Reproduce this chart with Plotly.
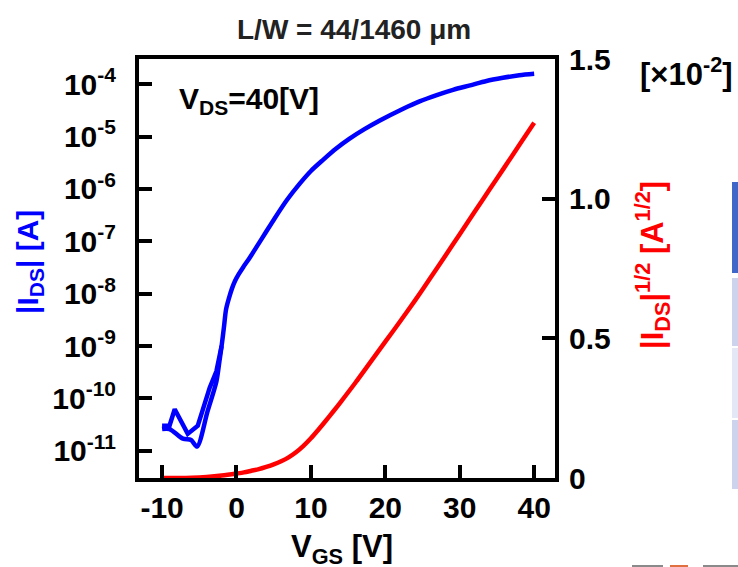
import plotly.graph_objects as go

# ---------------- data ----------------
# |I_DS| forward sweep (A)
vgs_fwd = [-10, -9.0, -7.2, -6.1, -5.3, -3.9, -2.7, -2.3, -2.0, -1.7, -1.4, -1.0, -0.6, -0.2,
           0.3, 0.9, 1.8, 2.7, 3.9, 5.1, 6.8, 8.5, 10.0, 11.6, 13.4, 15.2, 17.2, 19.2, 22.4,
           24.6, 26.9, 29.1, 31.4, 33.6, 35.8, 38.0, 40.0]
ids_fwd = [2.6e-11, 2.6e-11, 1.7e-11, 1.6e-11, 1.2e-11, 5.6e-11, 2.1e-10, 5.0e-10, 1.0e-9,
           2.2e-9, 5.0e-9, 8.3e-9, 1.26e-8, 1.74e-8, 2.35e-8, 3.2e-8, 4.9e-8, 7.8e-8, 1.45e-7,
           2.7e-7, 6.2e-7, 1.26e-6, 2.2e-6, 3.55e-6, 5.9e-6, 9.1e-6, 1.38e-5, 2.0e-5, 3.4e-5,
           4.7e-5, 6.2e-5, 7.8e-5, 9.5e-5, 1.15e-4, 1.32e-4, 1.48e-4, 1.58e-4]
# |I_DS| reverse sweep, low-current part (A)
vgs_rev = [-2.0, -2.7, -3.6, -5.2, -6.55, -8.3, -9.0, -10.0]
ids_rev = [1.0e-9, 3.3e-10, 1.6e-10, 3.0e-11, 2.1e-11, 6.2e-11, 3.0e-11, 3.0e-11]

# |I_DS|^(1/2)  (x10^-2 A^1/2)
vgs_sqrt = [-10, -8, -6, -4, -2, 0, 1, 2, 3, 4, 5, 6, 7, 8, 9, 10, 11, 12, 13, 14, 16, 18,
            20, 22, 24, 26, 28, 30, 32, 34, 36, 38, 40]
sqrt_ids = [0.0, 0.0, 0.001, 0.004, 0.009, 0.016, 0.020, 0.026, 0.032, 0.040, 0.049, 0.060,
            0.074, 0.092, 0.115, 0.142, 0.173, 0.205, 0.238, 0.272, 0.342, 0.415, 0.488,
            0.561, 0.636, 0.714, 0.793, 0.873, 0.953, 1.033, 1.112, 1.192, 1.272]

x_ticks = [-10, 0, 10, 20, 30, 40]
x_ticktext = ["-10", "0", "10", "20", "30", "40"]
left_tickvals = [1e-4, 1e-5, 1e-6, 1e-7, 1e-8, 1e-9, 1e-10, 1e-11]
left_ticktext = ["10<sup>-4</sup>", "10<sup>-5</sup>", "10<sup>-6</sup>", "10<sup>-7</sup>",
                 "10<sup>-8</sup>", "10<sup>-9</sup>", "10<sup>-10</sup>", "10<sup>-11</sup>"]
right_tickvals = [0, 0.5, 1.0, 1.5]
right_ticktext = ["0", "0.5", "1.0", "1.5"]

# ---------------- figure ----------------
W, H = 738, 567
L, R, T, B = 139, 555, 59, 478


def px(x):  # window pixel x -> paper
    return (x - L) / (R - L)


def py(y):  # window pixel y -> paper
    return (B - y) / (B - T)


FONT = "Liberation Sans, Arial, sans-serif"

fig = go.Figure()
fig.add_trace(go.Scatter(x=vgs_fwd, y=ids_fwd, mode="lines",
                         line=dict(color="#0000ff", width=4.5, shape="spline", smoothing=0.8),
                         yaxis="y", showlegend=False))
fig.add_trace(go.Scatter(x=vgs_rev, y=ids_rev, mode="lines",
                         line=dict(color="#0000ff", width=4.5), yaxis="y", showlegend=False))
fig.add_trace(go.Scatter(x=vgs_sqrt, y=sqrt_ids, mode="lines",
                         line=dict(color="#ff0000", width=4.5, shape="spline", smoothing=0.8),
                         yaxis="y2", showlegend=False))

tickfont = dict(family=FONT, size=30, color="black", weight="bold")
common = dict(ticks="inside", ticklen=13, tickwidth=4, tickcolor="black", showline=True,
              linewidth=4, linecolor="black", showgrid=False, zeroline=False,
              tickfont=tickfont, automargin=False)

fig.update_layout(
    width=W, height=H,
    margin=dict(l=L, r=W - R, t=T, b=H - B),
    plot_bgcolor="white", paper_bgcolor="white",
    showlegend=False,
    xaxis=dict(range=[-13.1, 42.8], tickvals=x_ticks, ticktext=x_ticktext, mirror=True,
               ticklabelstandoff=0, **common),
    yaxis=dict(type="log", range=[-11.52, -3.52], tickvals=left_tickvals,
               ticktext=left_ticktext, ticklabelstandoff=13, **common),
    yaxis2=dict(range=[0, 1.5], overlaying="y", side="right", tickvals=right_tickvals,
                ticktext=right_ticktext, ticklabelstandoff=4, **common),
)

annos = [
    dict(text="L/W = 44/1460 μm", x=px(354), y=py(29), font=dict(size=28, color="#222222", weight="bold")),
    dict(text="V<sub>DS</sub>=40[V]", x=px(249), y=py(101), font=dict(size=30, color="black", weight="bold")),
    dict(text="[×10<sup>-2</sup>]", x=px(686), y=py(72), font=dict(size=31, color="black", weight="bold")),
    dict(text="V<sub>GS</sub> [V]", x=px(342), y=py(549), font=dict(size=31, color="black", weight="bold")),
    dict(text="|I<sub>DS</sub>| [A]", x=px(29), y=py(262), textangle=-90,
         font=dict(size=30, color="#0000ff", weight="bold")),
    dict(text="|I<sub>DS</sub>|<sup>1/2</sup> [A<sup>1/2</sup>]", x=px(652), y=py(265), textangle=-90,
         font=dict(size=31, color="#ff0000", weight="bold")),
]
for a in annos:
    a["font"]["family"] = FONT
    fig.add_annotation(xref="paper", yref="paper", showarrow=False,
                       xanchor="center", yanchor="middle", **a)

# cropped neighbouring-figure fragments at the right/bottom edge (window pixels)
frags = [
    (732, 182, 738, 273, "#3f66c9"),
    (732, 278, 738, 346, "#cdd3ec"),
    (732, 348, 738, 418, "#e4e7f5"),
    (732, 420, 738, 489, "#cdd3ec"),
    (632, 565, 663, 567, "#8a8a8a"),
    (670, 565, 688, 567, "#e07040"),
    (703, 565, 738, 567, "#8a8a8a"),
]
for x0, y0, x1, y1, c in frags:
    fig.add_shape(type="rect", xref="paper", yref="paper", x0=px(x0), x1=px(x1),
                  y0=py(y0), y1=py(y1), fillcolor=c, line=dict(width=0), layer="above")

fig.write_html("out.html", config={"displayModeBar": False},
               post_script="document.body.style.margin='0px';")
